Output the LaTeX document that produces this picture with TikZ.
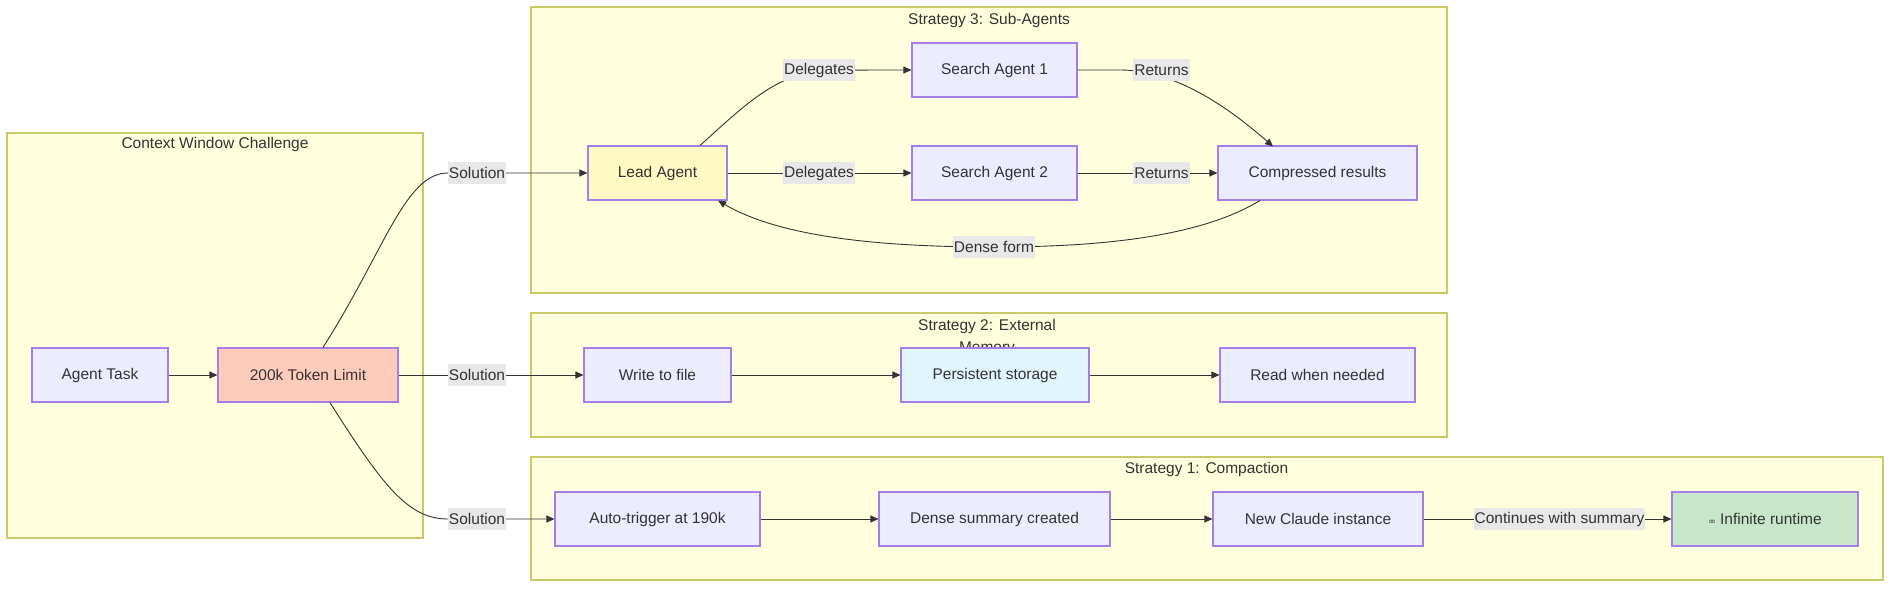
\documentclass[tikz,border=0pt]{standalone}
\usepackage{fontspec}
\setmainfont{Liberation Sans}
\usetikzlibrary{arrows.meta}
\definecolor{clfill}{HTML}{FFFFDE}
\definecolor{cldraw}{HTML}{C9C96A}
\definecolor{nfill}{HTML}{ECECFF}
\definecolor{ndraw}{HTML}{A77DE8}
\definecolor{txt}{HTML}{333333}
\definecolor{edgec}{HTML}{333333}
\definecolor{lbg}{HTML}{E8E8E8}
\definecolor{redfill}{HTML}{FFCCBC}
\definecolor{yelfill}{HTML}{FFF9C4}
\definecolor{bluefill}{HTML}{E1F5FE}
\definecolor{grnfill}{HTML}{C8E6C9}
\tikzset{
  cluster/.style={draw=cldraw, fill=clfill, line width=1.2pt, inner sep=0pt},
  cltitle/.style={text=txt, font=\fontsize{15.5}{22}\selectfont, inner sep=0pt, align=center},
  box/.style={draw=ndraw, fill=nfill, line width=1.1pt, minimum height=54pt, inner sep=0pt, text=txt, font=\fontsize{15.5}{18}\selectfont},
  elab/.style={fill=lbg, inner xsep=1pt, inner ysep=0pt, minimum height=22pt, text=txt, font=\fontsize{15.5}{18}\selectfont},
  conn/.style={draw=edgec, line width=0.9pt, -{Triangle[length=8pt,width=7pt]}},
}
\begin{document}
\begin{tikzpicture}[x=1pt,y=-1pt]
\useasboundingbox (0,0) rectangle (1899,591);
\fill[white] (0,0) rectangle (1899,591);
% clusters
\node[cluster, minimum width=416pt, minimum height=405pt] (cw) at (215,335.5) {};
\node[cltitle] (cwt) at (215,144) {Context Window Challenge};
\node[cluster, minimum width=916pt, minimum height=286pt] (s3) at (989,150) {};
\node[cltitle] (s3t) at (989,20) {Strategy 3: Sub-Agents};
\node[cluster, minimum width=916pt, minimum height=124pt] (s2) at (989,375) {};
\node[cltitle] (s2t) at (987,337.5) {Strategy 2: External\\Memory};
\node[cluster, minimum width=1352pt, minimum height=123pt] (s1) at (1207,518.5) {};
\node[cltitle] (s1t) at (1206.5,469) {Strategy 1: Compaction};
% nodes
\node[box, minimum width=136pt] (task) at (100,375) {Agent Task};
\node[box, fill=redfill, minimum width=180pt] (lim) at (308,375) {200k Token Limit};
\node[box, fill=yelfill, minimum width=139pt] (lead) at (657.5,173) {Lead Agent};
\node[box, minimum width=165pt] (sa1) at (994.5,70) {Search Agent 1};
\node[box, minimum width=165pt] (sa2) at (994.5,173) {Search Agent 2};
\node[box, minimum width=199pt] (cr) at (1317.5,173) {Compressed results};
\node[box, minimum width=147pt] (wf) at (657.5,375) {Write to file};
\node[box, fill=bluefill, minimum width=188pt] (ps) at (995,375) {Persistent storage};
\node[box, minimum width=195pt] (rw) at (1317.5,375) {Read when needed};
\node[box, minimum width=205pt] (at) at (657.5,519) {Auto-trigger at 190k};
\node[box, minimum width=231pt] (ds) at (994.5,519) {Dense summary created};
\node[box, minimum width=210pt] (nc) at (1318,519) {New Claude instance};
\node[box, fill=grnfill, minimum width=186pt] (inf) at (1765,519) {{\fontspec{DejaVu Sans}\fontsize{9}{10}\selectfont ∞} Infinite runtime};
% free coordinates on curves
\coordinate (solA) at (448,173);
\coordinate (solC) at (448,519);
\coordinate (del1) at (819,72);
\coordinate (ret1) at (1120,70);
\coordinate (dense) at (994,247);
% edges
\draw[conn] (task) -- (lim);
\draw[conn] (lim.north) ++(15,0) .. controls (385,250) and (405,173) .. (solA) -- (lead);
\draw[conn] (lim) -- (wf);
\draw[conn] (lim.south) ++(22,0) .. controls (385,490) and (410,519) .. (solC) -- (at);
\draw[conn] (lead.north) ++(42.5,0) .. controls (745,105) and (775,75) .. (del1) .. controls (850,70) .. (sa1.west);
\draw[conn] (lead) -- (sa2);
\draw[conn] (sa1) -- (ret1) .. controls (1170,70) and (1220,100) .. (1273,146.5);
\draw[conn] (sa2) -- (cr);
\draw[conn] (cr.south) ++(-57.5,0) .. controls (1200,237) and (1100,247) .. (dense) .. controls (880,247) and (780,237) .. (718,200.5);
\draw[conn] (wf) -- (ps);
\draw[conn] (ps) -- (rw);
\draw[conn] (at) -- (ds);
\draw[conn] (ds) -- (nc);
\draw[conn] (nc) -- (inf);
% edge labels
\node[elab] (l1) at (477,173) {Solution};
\node[elab] (l2) at (477,375) {Solution};
\node[elab] (l3) at (477,519) {Solution};
\node[elab] (l4) at (819,70) {Delegates};
\node[elab] (l5) at (819,173) {Delegates};
\node[elab] (l6) at (1161.5,70) {Returns};
\node[elab] (l7) at (1161.5,173) {Returns};
\node[elab] (l8) at (994,247) {Dense form};
\node[elab] (l9) at (1559.5,519) {Continues with summary};
\end{tikzpicture}
\end{document}
